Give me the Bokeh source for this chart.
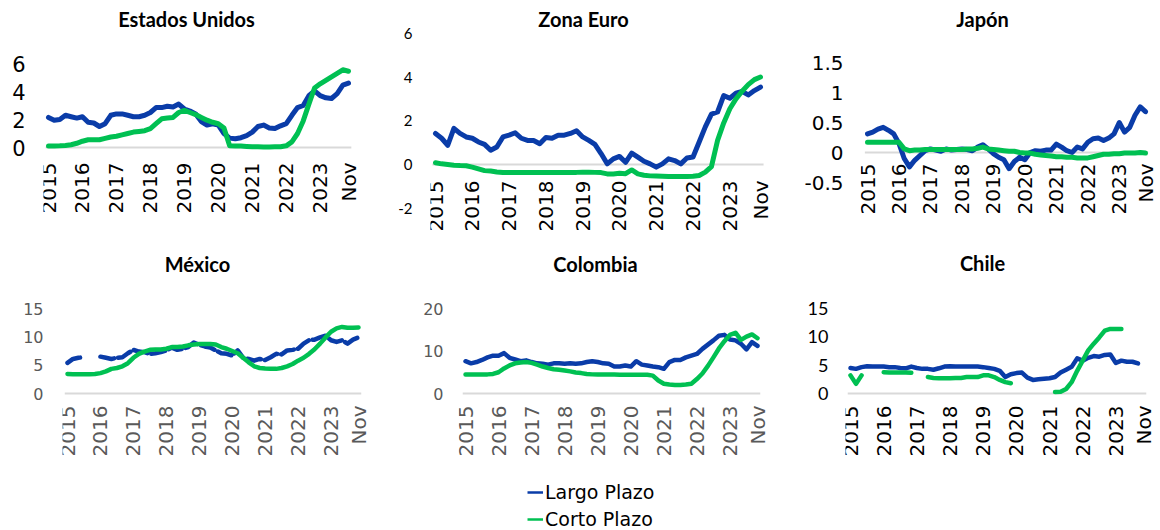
import math
import pandas as pd
from bokeh.plotting import figure
from bokeh.layouts import column, row
from bokeh.models import (ColumnDataSource, LabelSet, Label, FixedTicker,
                          Legend, LegendItem, Range1d)
from bokeh.core.properties import value
from bokeh.embed import file_html
from bokeh.resources import INLINE

NaN = float("nan")

# ---------------- data (bi-monthly readings, Jan-2015 .. Nov-2023) ----------------
fechas = pd.date_range("2015-01-01", "2023-11-01", freq="2MS")
t = [d.year + (d.month - 1) / 12 for d in fechas]

tick_pos = [2015, 2016, 2017, 2018, 2019, 2020, 2021, 2022, 2023, 2023 + 10 / 12]
tick_txt = ["2015", "2016", "2017", "2018", "2019", "2020", "2021", "2022", "2023", "Nov"]

series_names = ["Largo Plazo", "Corto Plazo"]

us_largo = [2.15, 1.95, 2.0, 2.3, 2.2, 2.1,
            2.2, 1.8, 1.75, 1.5, 1.7, 2.3,
            2.4, 2.4, 2.3, 2.2, 2.2, 2.3,
            2.5, 2.85, 2.85, 2.95, 2.9, 3.1,
            2.75, 2.6, 2.4, 1.85, 1.6, 1.7,
            1.6, 1.0, 0.67, 0.62, 0.7, 0.85,
            1.1, 1.5, 1.6, 1.4, 1.35, 1.55,
            1.7, 2.3, 2.85, 3.0, 3.7, 4.05,
            3.7, 3.55, 3.5, 3.85, 4.45, 4.6]
us_corto = [0.1, 0.1, 0.12, 0.15, 0.2, 0.3,
            0.45, 0.55, 0.55, 0.55, 0.65, 0.75,
            0.8, 0.9, 1.0, 1.1, 1.15, 1.2,
            1.35, 1.7, 2.05, 2.1, 2.15, 2.5,
            2.65, 2.5, 2.35, 2.15, 1.95, 1.8,
            1.7, 1.4, 0.12, 0.1, 0.1, 0.08,
            0.06, 0.05, 0.04, 0.04, 0.05, 0.05,
            0.12, 0.4, 1.0, 1.9, 3.1, 4.25,
            4.55, 4.8, 5.05, 5.3, 5.55, 5.45]

ez_largo = [1.42, 1.2, 0.88, 1.65, 1.42, 1.26,
            1.2, 1.03, 0.92, 0.65, 0.8, 1.26,
            1.34, 1.45, 1.2, 1.1, 1.1, 0.95,
            1.23, 1.2, 1.34, 1.34, 1.42, 1.54,
            1.26, 1.1, 0.92, 0.5, 0.03, 0.26,
            0.37, 0.1, 0.52, 0.34, 0.15, 0.03,
            -0.12, 0.03, 0.26, 0.18, 0.03, 0.3,
            0.34, 1.03, 1.72, 2.3, 2.4, 3.15,
            3.03, 3.26, 3.34, 3.18, 3.38, 3.54]
ez_corto = [0.08, 0.03, 0.0, -0.03, -0.05, -0.06,
            -0.12, -0.2, -0.28, -0.3, -0.34, -0.37,
            -0.37, -0.37, -0.37, -0.37, -0.37, -0.37,
            -0.37, -0.37, -0.37, -0.37, -0.36, -0.36,
            -0.35, -0.35, -0.36, -0.37, -0.43, -0.43,
            -0.4, -0.42, -0.25, -0.43, -0.49, -0.52,
            -0.53, -0.54, -0.55, -0.55, -0.55, -0.55,
            -0.54, -0.5, -0.35, -0.1, 1.1, 1.9,
            2.55, 3.0, 3.35, 3.65, 3.88, 4.0]

jp_largo = [0.31, 0.34, 0.39, 0.42, 0.37, 0.31,
            0.15, -0.1, -0.24, -0.13, -0.05, 0.03,
            0.06, 0.04, 0.02, 0.06, 0.04, 0.05,
            0.06, 0.05, 0.03, 0.09, 0.13, 0.06,
            -0.02, -0.08, -0.12, -0.27, -0.15, -0.08,
            -0.12, 0.0, 0.03, 0.02, 0.04, 0.04,
            0.14, 0.09, 0.03, 0.0, 0.09, 0.06,
            0.17, 0.23, 0.24, 0.2, 0.24, 0.31,
            0.5, 0.34, 0.42, 0.62, 0.76, 0.68]
jp_corto = [0.17, 0.17, 0.17, 0.17, 0.17, 0.17,
            0.17, 0.06, 0.03, 0.04, 0.04, 0.05,
            0.05, 0.05, 0.05, 0.05, 0.05, 0.05,
            0.05, 0.06, 0.06, 0.07, 0.09, 0.06,
            0.05, 0.04, 0.03, 0.02, 0.02, 0.0,
            -0.01, -0.01, -0.03, -0.04, -0.05, -0.06,
            -0.07, -0.07, -0.08, -0.08, -0.09, -0.09,
            -0.09, -0.07, -0.05, -0.03, -0.03, -0.02,
            -0.02, -0.01, -0.01, -0.01, 0.0, -0.01]

mx_largo = [5.4, 6.1, 6.3, 6.4, NaN, NaN,
            6.5, 6.3, 6.1, 6.3, 6.4, 7.1,
            7.7, 7.4, 7.3, 7.0, 7.1, 7.3,
            7.6, 8.1, 7.7, 7.9, 8.2, 9.0,
            8.6, 8.3, 8.1, 7.6, 7.1, 7.0,
            6.7, 7.6, 6.3, 6.1, 5.8, 6.1,
            5.9, 6.4, 7.0, 6.9, 7.6, 7.7,
            7.9, 8.8, 9.4, 9.5, 9.9, 10.2,
            9.4, 9.1, 9.4, 8.8, 9.5, 9.9]
mx_corto = [3.45, 3.4, 3.4, 3.4, 3.4, 3.45,
            3.6, 3.9, 4.35, 4.5, 4.8, 5.35,
            6.3, 7.0, 7.4, 7.7, 7.75, 7.75,
            7.9, 8.2, 8.2, 8.3, 8.5, 8.65,
            8.75, 8.75, 8.75, 8.65, 8.2, 7.9,
            7.5, 7.1, 6.3, 5.5, 4.8, 4.5,
            4.4, 4.35, 4.35, 4.5, 4.8, 5.2,
            5.8, 6.3, 7.0, 7.8, 8.8, 9.9,
            10.9, 11.5, 11.75, 11.6, 11.6, 11.65]

co_largo = [7.6, 7.1, 7.4, 7.9, 8.5, 8.9,
            8.9, 9.5, 8.4, 8.0, 7.6, 7.8,
            7.4, 7.1, 7.0, 6.8, 7.1, 7.1,
            7.0, 7.1, 7.0, 7.1, 7.4, 7.6,
            7.4, 7.1, 7.0, 6.35, 6.35, 6.6,
            6.35, 7.6, 6.8, 6.6, 6.35, 6.2,
            5.8, 7.4, 7.9, 7.9, 8.5, 8.9,
            9.3, 10.5, 11.5, 12.5, 13.6, 13.8,
            12.7, 12.5, 11.7, 10.4, 12.1, 11.2]
co_corto = [4.5, 4.5, 4.5, 4.5, 4.5, 4.6,
            5.0, 5.9, 6.6, 7.1, 7.3, 7.4,
            7.2, 6.8, 6.35, 6.0, 5.7, 5.6,
            5.4, 5.2, 4.95, 4.8, 4.6, 4.5,
            4.45, 4.45, 4.45, 4.45, 4.4, 4.4,
            4.4, 4.4, 4.4, 4.4, 4.2, 3.05,
            2.3, 2.1, 2.0, 2.0, 2.1, 2.3,
            3.4, 4.7, 6.5, 8.5, 10.6, 12.3,
            13.8, 14.3, 12.6, 13.4, 13.9, 13.0]

cl_largo = [4.5, 4.35, 4.65, 4.8, 4.75, 4.75,
            4.75, 4.65, 4.65, 4.5, 4.45, 4.75,
            4.5, 4.35, 4.35, 4.2, 4.45, 4.75,
            4.8, 4.75, 4.75, 4.75, 4.75, 4.75,
            4.65, 4.5, 4.35, 4.0, 2.9, 3.4,
            3.6, 3.7, 2.8, 2.4, 2.5, 2.6,
            2.7, 2.9, 3.7, 4.2, 4.7, 6.2,
            5.8, 6.3, 6.6, 6.5, 6.8, 6.9,
            5.4, 5.8, 5.6, 5.6, 5.3, NaN]
cl_corto = [3.2, 1.7, 3.2, NaN, NaN, NaN,
            3.75, 3.7, 3.7, 3.7, 3.7, 3.65,
            NaN, NaN, 2.9, 2.75, 2.7, 2.7,
            2.7, 2.75, 2.75, 2.9, 2.9, 2.9,
            3.2, 3.2, 2.9, 2.4, 2.0, 1.8,
            NaN, NaN, NaN, NaN, NaN, NaN,
            NaN, 0.25, 0.3, 0.8, 2.0, 4.0,
            5.8, 7.6, 8.8, 9.9, 11.1, 11.4,
            11.4, 11.4, NaN, NaN, NaN, NaN]

# ---------------- styling ----------------
BLUE = "#0A3CA8"
GREEN = "#00C052"
ZERO = "#D9D9D9"
GEO = "DejaVu Sans"
CAL = "Lato"


def panel(title, largo, corto, box, frame_left, xpix, ypix, yticks, ylabels,
          title_xy, yfont, ysize, ycolor, xcolor, xgap, lw, blue_dash="solid"):
    ox, oy, w, h = box
    fl, fr, ft, fb = frame_left, ox + w, oy, oy + h
    x15, xnov = xpix
    y0, ypx, yval = ypix
    kx = (xnov - x15) / (tick_pos[-1] - tick_pos[0])
    ky = (y0 - ypx) / yval
    xr = Range1d(tick_pos[0] + (fl - x15) / kx, tick_pos[0] + (fr - x15) / kx)
    yr = Range1d((y0 - fb) / ky, (y0 - ft) / ky)
    p = figure(width=w, height=h, x_range=xr, y_range=yr,
               min_border_left=fl - ox, min_border_right=0,
               min_border_top=0, min_border_bottom=0,
               x_axis_location=None, toolbar_location=None,
               output_backend="svg", outline_line_color=None)
    p.grid.visible = False
    ax = p.yaxis[0]
    ax.ticker = FixedTicker(ticks=yticks)
    ax.major_label_overrides = {k: v for k, v in zip(yticks, ylabels)}
    ax.axis_line_color = None
    ax.major_tick_line_color = None
    ax.minor_tick_line_color = None
    ax.major_tick_out = 0
    ax.major_tick_in = 0
    ax.major_label_standoff = int(fl - yfont[1])
    ax.major_label_text_font = yfont[0]
    ax.major_label_text_font_size = ysize
    ax.major_label_text_color = ycolor

    # zero baseline across the data span
    p.segment(x0=[t[0] - 1 / 12], x1=[t[-1] + 1 / 12], y0=[0], y1=[0],
              line_color=ZERO, line_width=2)

    src = ColumnDataSource(dict(t=t, largo=largo, corto=corto))
    p.line("t", "largo", source=src, color=BLUE, line_width=lw,
           line_join="round", line_cap="round", line_dash=blue_dash)
    p.line("t", "corto", source=src, color=GREEN, line_width=lw,
           line_join="round", line_cap="round")

    lab_src = ColumnDataSource(dict(x=tick_pos, y=[0] * len(tick_pos), text=tick_txt))
    p.add_layout(LabelSet(x="x", y="y", text="text", source=lab_src,
                          angle=math.pi / 2, text_align="right",
                          text_baseline="middle", y_offset=-xgap,
                          text_font=value(GEO), text_font_size="20px",
                          text_color=xcolor))

    tx = tick_pos[0] + (title_xy[0] - x15) / kx
    ty = (y0 - title_xy[1]) / ky
    p.add_layout(Label(x=tx, y=ty, text=title, text_align="center",
                       text_baseline="middle", text_font=CAL,
                       text_font_style="bold", text_font_size="20px",
                       text_color="#000000"))
    return p


p1 = panel("Estados Unidos", us_largo, us_corto, (0, 0, 390, 240), 43,
           (48, 348), (147, 63, 6),
           [0, 2, 4, 6], ["0", "2", "4", "6"], (186, 18),
           (GEO, 25), "21px", "#000000", "#000000", 15, 5)
p2 = panel("Zona Euro", ez_largo, ez_corto, (390, 0, 385, 240), 430,
           (435, 760), (164, 76.5, 4),
           [-2, 0, 2, 4, 6], ["-2", "0", "2", "4", "6"], (583, 18),
           (CAL, 412), "15px", "#000000", "#000000", 16, 5)
p3 = panel("Japón", jp_largo, jp_corto, (775, 0, 385, 240), 860,
           (867, 1145), (152, 92, 1),
           [-0.5, 0, 0.5, 1, 1.5], ["-0.5", "0", "0.5", "1", "1.5"], (982, 18),
           (GEO, 843), "20px", "#000000", "#000000", 11, 5)
p4 = panel("México", mx_largo, mx_corto, (0, 240, 400, 230), 62,
           (67, 358), (393, 308, 15),
           [0, 5, 10, 15], ["0", "5", "10", "15"], (197, 263),
           (GEO, 43), "16px", "#595959", "#595959", 12, 4.5, blue_dash="14 4")
p5 = panel("Colombia", co_largo, co_corto, (400, 240, 390, 230), 458,
           (465, 757), (393, 308, 20),
           [0, 10, 20], ["0", "10", "20"], (595, 263),
           (GEO, 443), "16px", "#595959", "#595959", 12, 4.5)
p6 = panel("Chile", cl_largo, cl_corto, (790, 240, 370, 230), 845,
           (850, 1143), (393, 308, 15),
           [0, 5, 10, 15], ["0", "5", "10", "15"], (982, 262),
           (CAL, 828), "18px", "#000000", "#000000", 12, 4.5)

# ---------------- legend strip ----------------
pl = figure(width=1160, height=60, x_range=Range1d(0, 1), y_range=Range1d(0, 1),
            min_border_left=0, min_border_right=0, min_border_top=0,
            min_border_bottom=0, x_axis_location=None, y_axis_location=None,
            toolbar_location=None, output_backend="svg", outline_line_color=None)
pl.grid.visible = False
r1 = pl.line(x=[-5, -4], y=[-5, -5], color=BLUE, line_width=2.5)
r2 = pl.line(x=[-5, -4], y=[-5, -5], color=GREEN, line_width=2.5)
leg = Legend(items=[LegendItem(label=series_names[0], renderers=[r1]),
                    LegendItem(label=series_names[1], renderers=[r2])],
             location=(527, -1), orientation="vertical", padding=0, margin=0,
             spacing=3, glyph_width=16, glyph_height=24, label_height=24,
             label_standoff=2, border_line_color=None, background_fill_alpha=0,
             label_text_font=GEO, label_text_font_size="19px",
             label_text_color="#000000")
pl.add_layout(leg, "center")

layout = column(row(p1, p2, p3), row(p4, p5, p6), pl)
open("out.html", "w").write(file_html(layout, INLINE))
